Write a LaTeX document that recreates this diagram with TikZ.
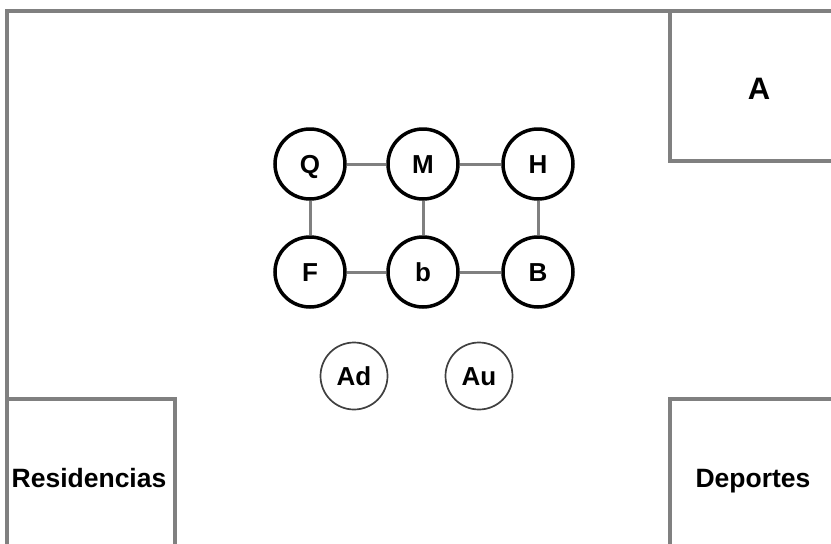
\documentclass[tikz,border=0pt]{standalone}
\usepackage{fontspec}
\setmainfont{Liberation Sans}
\begin{document}
\begin{tikzpicture}[x=1pt,y=-1pt,
  wall/.style={draw=black!50,line width=3.3pt},
  sitio/.style={circle,draw=black,line width=3.5pt,minimum size=70pt,inner sep=0pt,text height=18.6pt,text depth=0pt,font=\fontsize{26}{30}\selectfont\bfseries},
  aula/.style={circle,draw=black!75,line width=1.7pt,minimum size=67pt,inner sep=0pt,text height=18.6pt,text depth=0pt,font=\fontsize{26}{30}\selectfont\bfseries},
  camino/.style={draw=black!50,line width=3pt},
  rotulo/.style={anchor=base,font=\fontsize{26.5}{30}\selectfont\bfseries}]
\useasboundingbox (0,0) rectangle (831,544);
\draw[wall] (7,544) -- (7,11) -- (831,11);
\draw[wall] (670,11) -- (670,161) -- (831,161);
\draw[wall] (7,399) -- (175,399) -- (175,544);
\draw[wall] (670,544) -- (670,399) -- (831,399);
\node[rotulo,font=\fontsize{31}{36}\selectfont\bfseries] at (759,99) (a) {A};
\node[rotulo] at (89,487) (res) {Residencias};
\node[rotulo] at (753,487) (dep) {Deportes};

\node[sitio] at (310,164) (q) {Q};
\node[sitio] at (423,164) (m) {M};
\node[sitio] at (538,164) (h) {H};
\node[sitio] at (310,272) (f) {F};
\node[sitio] at (423,272) (b) {b};
\node[sitio] at (538,272) (bb) {B};
\node[aula] at (354,376) (ad) {Ad};
\node[aula] at (479,376) (au) {Au};
\draw[camino] (q) -- (m) -- (h) -- (bb) -- (b) -- (f) -- (q);
\draw[camino] (m) -- (b);
\end{tikzpicture}
\end{document}
